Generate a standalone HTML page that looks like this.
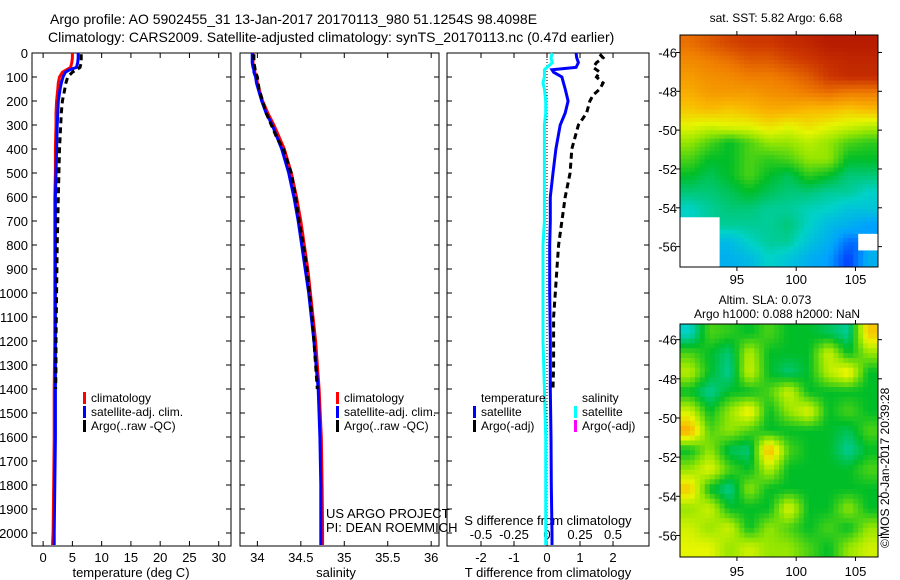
<!DOCTYPE html>
<html><head><meta charset="utf-8">
<style>
html,body{margin:0;padding:0;background:#fff;}
svg{display:block;font-family:"Liberation Sans",sans-serif;}
text{fill:#000;}
</style></head>
<body>
<svg id="fig" width="900" height="580" viewBox="0 0 900 580">
<text x="50" y="24" font-size="14">Argo profile: AO 5902455_31 13-Jan-2017 20170113_980 51.1254S 98.4098E</text>
<text x="48" y="42" font-size="14">Climatology: CARS2009. Satellite-adjusted climatology: synTS_20170113.nc (0.47d earlier)</text>
<text x="776" y="22" font-size="12" text-anchor="middle">sat. SST: 5.82 Argo: 6.68</text>
<text x="765" y="304" font-size="12" text-anchor="middle">Altim. SLA: 0.073</text>
<text x="777" y="318" font-size="12" text-anchor="middle">Argo h1000: 0.088 h2000: NaN</text>
<text transform="translate(889,548) rotate(-90)" font-size="12">©IMOS 20-Jan-2017 20:39:28</text>
<g id="g"></g>
</svg>
<script>
// ---- profile data ----
const depth=[0,20,40,60,70,80,100,125,150,200,250,300,400,500,600,700,800,900,1000,1200,1400,1600,1800,2000,2050];
const tClim=[5.0,5.0,4.9,4.7,4.0,3.3,2.8,2.6,2.5,2.3,2.2,2.2,2.1,2.1,2.0,2.0,2.0,2.0,2.0,2.0,1.9,1.9,1.8,1.7,1.6];
const tSat=[6.0,6.0,5.9,5.7,4.5,3.8,3.4,3.1,2.9,2.6,2.5,2.4,2.3,2.2,2.1,2.1,2.1,2.1,2.1,2.1,2.1,2.1,2.0,1.9,1.9];
const sClim=[33.95,33.95,33.95,33.96,33.97,33.97,33.99,34.0,34.02,34.06,34.12,34.19,34.31,34.39,34.45,34.5,34.54,34.58,34.61,34.67,34.71,34.735,34.745,34.75,34.75];
const sSat=[33.94,33.94,33.94,33.95,33.96,33.96,33.98,33.99,34.01,34.05,34.1,34.17,34.28,34.36,34.42,34.47,34.51,34.55,34.59,34.65,34.7,34.72,34.73,34.73,34.73];
const satDiffT=[0.88,0.9,0.95,0.88,0.15,0.2,0.45,0.5,0.55,0.64,0.55,0.4,0.27,0.18,0.1,0.1,0.08,0.08,0.08,0.1,0.1,0.12,0.13,0.15,0.15];
const satDiffS=[0.04,0.03,0.04,0.0,-0.02,-0.02,-0.02,-0.03,-0.02,-0.01,-0.01,-0.02,-0.02,-0.02,-0.02,-0.02,-0.03,-0.03,-0.03,-0.03,-0.02,-0.01,-0.01,-0.01,-0.01];
const argoDepth=[5,20,40,60,80,100,125,150,175,200,250,300,350,400,500,600,700,800,900,1000,1100,1200,1300,1400];
const tArgo=[6.5,6.5,6.5,6.3,5.0,4.2,3.9,3.7,3.5,3.3,3.1,3.0,2.9,2.8,2.7,2.6,2.5,2.4,2.35,2.3,2.25,2.2,2.2,2.15];
const sArgo=[33.96,33.96,33.96,33.97,33.98,34.0,34.01,34.02,34.04,34.06,34.1,34.16,34.22,34.3,34.39,34.44,34.48,34.53,34.57,34.6,34.63,34.65,34.67,34.69];
const argoDiffT=[1.6,1.7,1.5,1.4,1.6,1.5,1.7,1.6,1.4,1.3,1.2,0.95,0.85,0.75,0.7,0.55,0.45,0.35,0.3,0.25,0.2,0.2,0.2,0.18];
const depthTicks=[0,100,200,300,400,500,600,700,800,900,1000,1100,1200,1300,1400,1500,1600,1700,1800,1900,2000];
const tTicks=[0,5,10,15,20,25,30];
const sTicks=[34,34.5,35,35.5,36];
const dTTicks=[-2,-1,0,1,2];
const dSTicks=[-0.5,-0.25,0,0.25,0.5];
// ---- map data (colour index 0..1, null = missing) ----
const sstGrid=[
[0.82,0.85,0.88,0.9,0.9,0.92,0.93,0.95,0.95,0.95],
[0.78,0.8,0.82,0.85,0.85,0.88,0.9,0.92,0.93,0.93],
[0.75,0.77,0.78,0.8,0.8,0.82,0.85,0.9,0.92,0.92],
[0.72,0.75,0.75,0.75,0.77,0.78,0.8,0.82,0.8,0.8],
[0.68,0.7,0.68,0.7,0.72,0.72,0.7,0.7,0.68,0.7],
[0.62,0.6,0.62,0.62,0.65,0.62,0.65,0.62,0.6,0.58],
[0.55,0.5,0.45,0.5,0.55,0.55,0.58,0.55,0.5,0.48],
[0.5,0.45,0.45,0.5,0.48,0.5,0.55,0.55,0.45,0.45],
[0.45,0.42,0.45,0.5,0.45,0.42,0.48,0.45,0.4,0.4],
[0.4,0.4,0.42,0.45,0.42,0.4,0.4,0.38,0.38,0.35],
[0.35,0.38,0.4,0.4,0.38,0.38,0.36,0.35,0.32,0.32],
[null,null,0.38,0.38,0.38,0.4,0.35,0.3,0.28,0.25],
[null,null,0.3,0.35,0.38,0.38,0.32,0.28,0.2,null],
[null,null,0.28,0.3,0.35,0.32,0.28,0.25,0.15,0.28]];
const slaGrid=[
[0.35,0.5,0.48,0.45,0.5,0.45,0.45,0.42,0.38,0.68],
[0.5,0.45,0.4,0.58,0.45,0.45,0.45,0.6,0.45,0.55],
[0.58,0.45,0.38,0.6,0.45,0.4,0.45,0.58,0.65,0.45],
[0.45,0.38,0.45,0.45,0.5,0.6,0.45,0.45,0.45,0.45],
[0.6,0.45,0.55,0.65,0.45,0.55,0.62,0.45,0.5,0.45],
[0.72,0.5,0.55,0.5,0.45,0.45,0.45,0.45,0.42,0.5],
[0.45,0.55,0.42,0.4,0.72,0.5,0.45,0.45,0.38,0.45],
[0.55,0.62,0.5,0.45,0.58,0.45,0.45,0.45,0.45,0.5],
[0.68,0.45,0.38,0.55,0.45,0.45,0.45,0.45,0.45,0.45],
[0.55,0.6,0.45,0.45,0.45,0.62,0.45,0.45,0.55,0.45],
[0.6,0.55,0.6,0.45,0.55,0.5,0.45,0.5,0.45,0.55],
[0.62,0.62,0.55,0.6,0.55,0.55,0.5,0.45,0.55,0.6]];
const latTicks=[-46,-48,-50,-52,-54,-56];
const lonTicks=[95,100,105];

const NS='http://www.w3.org/2000/svg';
const G=document.getElementById('g');
function mk(tag,attrs,parent){const e=document.createElementNS(NS,tag);for(const k in attrs)e.setAttribute(k,attrs[k]);(parent||G).appendChild(e);return e;}
function txt(x,y,s,anchor,size,parent){const e=mk('text',{x:x,y:y,'font-size':size||12,'text-anchor':anchor||'start'},parent);e.textContent=s;return e;}

const Y0=53,PXD=0.24;
const yD=d=>Y0+d*PXD;
const PT=53,PB=546;
const panels=[
 {l:32,r:231,xmin:-1.9,xmax:32.1,name:'temperature-panel'},
 {l:240,r:439,xmin:33.8,xmax:36.09,name:'salinity-panel'},
 {l:447,r:649,xmin:-3.03,xmax:3.09,name:'difference-panel'}];
panels.forEach(p=>{p.x=v=>p.l+(v-p.xmin)/(p.xmax-p.xmin)*(p.r-p.l);});
const xT=panels[0].x,xS=panels[1].x,xDT=panels[2].x,xDS=v=>panels[2].x(v*4);

panels.forEach((p,i)=>{
 const fr=mk('rect',{x:p.l,y:PT,width:p.r-p.l,height:PB-PT,fill:'none',stroke:'#000','stroke-width':1});
 
 
 depthTicks.forEach(d=>{
  mk('line',{x1:p.l,x2:p.l+5,y1:yD(d),y2:yD(d),stroke:'#000'});
  mk('line',{x1:p.r,x2:p.r-5,y1:yD(d),y2:yD(d),stroke:'#000'});
 });
});
depthTicks.forEach(d=>{const t=txt(28,yD(d)+5,String(d),'end',13);
 
 });
function xticks(arr,fx,ylab){arr.forEach(v=>{const x=fx(v);
 mk('line',{x1:x,x2:x,y1:PB,y2:PB-5,stroke:'#000'});
 mk('line',{x1:x,x2:x,y1:PT,y2:PT+5,stroke:'#000'});
 const t=txt(x,ylab,String(v),'middle',13);
 
 });}
xticks(tTicks,xT,562);
xticks(sTicks,xS,562);
xticks(dTTicks,xDT,562);
dSTicks.forEach(v=>{const t=txt(xDS(v),539,String(v),'middle',13);
 
 });
let t;
t=txt(131,577,'temperature (deg C)','middle',13);
t=txt(336,577,'salinity','middle',13);
t=txt(548,577,'T difference from climatology','middle',13);
t=txt(548,525,'S difference from climatology','middle',13);
t=txt(326,518,'US ARGO PROJECT','start',13);
t=txt(326,532,'PI: DEAN ROEMMICH','start',13);
const z=mk('line',{x1:xDT(0),x2:xDT(0),y1:PT,y2:PB,stroke:'#000','stroke-dasharray':'1,2'});



function series(ds,vs,fx,color,dash,name){
 const pts=ds.map((d,i)=>fx(vs[i]).toFixed(1)+','+yD(d).toFixed(1)).join(' ');
 const a={points:pts,fill:'none',stroke:color,'stroke-width':3};
 if(dash)a['stroke-dasharray']=dash;
 const e=mk('polyline',a);
 
 
}
series(depth,tClim,xT,'#ff0000',null,'temperature-climatology-line');
series(depth,tSat,xT,'#0000ff',null,'temperature-satellite-line');
series(argoDepth,tArgo,xT,'#000',"6,4",'temperature-argo-line');
series(depth,sClim,xS,'#ff0000',null,'salinity-climatology-line');
series(depth,sSat,xS,'#0000ff',null,'salinity-satellite-line');
series(argoDepth,sArgo,xS,'#000',"6,4",'salinity-argo-line');
series(depth,satDiffS,xDS,'#00ffff',null,'salinity-diff-satellite-line');
series(depth,satDiffT,xDT,'#0000ff',null,'temperature-diff-satellite-line');
series(argoDepth,argoDiffT,xDT,'#000',"6,4",'temperature-diff-argo-line');

function legend(x,y,color,label){
 const m=mk('rect',{x:x,y:y-10,width:3,height:12,fill:color});
 
 
 const l=txt(x+8,y,label,'start',12);
 
 
}
legend(83,402,'#ff0000','climatology');
legend(83,416,'#0000ff','satellite-adj. clim.');
legend(83,430,'#000','Argo(..raw -QC)');
legend(336,402,'#ff0000','climatology');
legend(336,416,'#0000ff','satellite-adj. clim.');
legend(336,430,'#000','Argo(..raw -QC)');
t=txt(481,402,'temperature','start',12);
t=txt(582,402,'salinity','start',12);
legend(473,416,'#0000ff','satellite');
legend(473,430,'#000','Argo(-adj)');
legend(574,416,'#00ffff','satellite');
legend(574,430,'#ff00ff','Argo(-adj)');

// ---- maps ----
const stops=[[0,[0,0,140]],[0.15,[0,60,255]],[0.25,[0,160,255]],[0.35,[0,210,200]],[0.45,[0,190,40]],[0.55,[150,230,0]],[0.62,[230,245,0]],[0.7,[250,185,0]],[0.8,[240,125,0]],[0.9,[205,55,0]],[1,[160,0,0]]];
function cmap(v){v=Math.max(0,Math.min(1,v));
 for(let i=1;i<stops.length;i++){if(v<=stops[i][0]){const a=stops[i-1],b=stops[i],f=(v-a[0])/(b[0]-a[0]);
  const c=a[1].map((x,k)=>Math.round(x+(b[1][k]-x)*f));return 'rgb('+c.join(',')+')';}}
 return 'rgb(160,0,0)';}
function sample(grid,fy,fx){
 const rows=grid.length,cols=grid[0].length;
 const y=Math.max(0,Math.min(rows-1,fy)),x=Math.max(0,Math.min(cols-1,fx));
 const i0=Math.floor(y),j0=Math.floor(x),i1=Math.min(rows-1,i0+1),j1=Math.min(cols-1,j0+1),dy=y-i0,dx=x-j0;
 const near=grid[Math.round(y)][Math.round(x)];
 if(near===null)return null;
 const q=[[grid[i0][j0],(1-dy)*(1-dx)],[grid[i0][j1],(1-dy)*dx],[grid[i1][j0],dy*(1-dx)],[grid[i1][j1],dy*dx]];
 let s=0,w=0;q.forEach(([v,ww])=>{if(v!==null){s+=v*ww;w+=ww;}});
 return w>0?s/w:null;}
function map(grid,L,R,T,B,latTop,latBot,lonL,lonR,name,labY){
 const rows=grid.length,cols=grid[0].length,SUB=4;
 const cw=(R-L)/(cols*SUB),ch=(B-T)/(rows*SUB);
 for(let i=0;i<rows*SUB;i++)for(let j=0;j<cols*SUB;j++){
  const v=sample(grid,(i+0.5)/SUB-0.5,(j+0.5)/SUB-0.5);
  const c=mk('rect',{x:(L+j*cw).toFixed(2),y:(T+i*ch).toFixed(2),width:(cw+0.5).toFixed(2),height:(ch+0.5).toFixed(2),fill:v===null?'#fff':cmap(v)});
  
  
 }
 const f=mk('rect',{x:L,y:T,width:R-L,height:B-T,fill:'none',stroke:'#000'});
 
 
 const yl=v=>T+(v-latTop)/(latBot-latTop)*(B-T),xl=v=>L+(v-lonL)/(lonR-lonL)*(R-L);
 latTicks.forEach(v=>{const y=yl(v);
  mk('line',{x1:L,x2:L-4,y1:y,y2:y,stroke:'#000'});mk('line',{x1:R,x2:R+4,y1:y,y2:y,stroke:'#000'});
  const l=txt(L-3,y+5,String(v),'end',13);
  
  });
 lonTicks.forEach(v=>{const x=xl(v);
  mk('line',{x1:x,x2:x,y1:B,y2:B+4,stroke:'#000'});mk('line',{x1:x,x2:x,y1:T,y2:T-4,stroke:'#000'});
  const l=txt(x,labY,String(v),'middle',13);
  
  });
}
map(sstGrid,680,878,35,267,-45.1,-57.05,90.2,106.9,'sst-map',284);
map(slaGrid,680,878,324,557,-45.2,-57.1,90.2,106.9,'sla-map',576);
</script>
</body></html>
